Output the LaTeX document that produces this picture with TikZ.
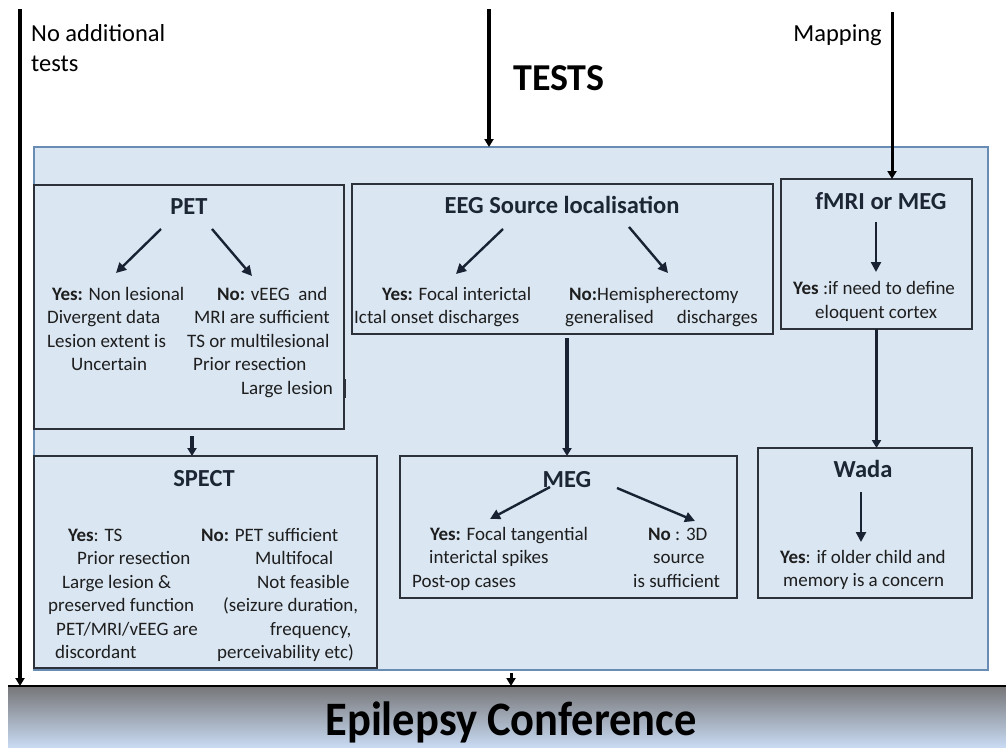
\documentclass[tikz,border=0pt]{standalone}
\usepackage{fontspec}
\setmainfont{Carlito}
\usetikzlibrary{arrows.meta}

\definecolor{panelfill}{RGB}{218,230,242}
\definecolor{panelline}{RGB}{105,140,180}
\definecolor{boxline}{RGB}{45,50,58}
\definecolor{headcol}{RGB}{28,38,52}
\definecolor{bodycol}{RGB}{30,30,30}
\definecolor{arrcol}{RGB}{24,34,50}
\definecolor{bargray}{RGB}{118,118,120}
\definecolor{barblue}{RGB}{200,218,242}

\tikzset{
  panel/.style={draw=panelline, fill=panelfill, line width=1.2pt, rectangle,
    inner sep=0pt, outer sep=0pt, anchor=north west},
  testbox/.style={draw=boxline, fill=panelfill, line width=1.2pt, rectangle,
    inner sep=0pt, outer sep=0pt, anchor=north west},
  headtxt/.style={text=headcol, font=\fontsize{24.5}{29}\selectfont\bfseries,
    inner sep=0pt, anchor=base},
  bodytxt/.style={text=bodycol, font=\fontsize{19}{23.5}\selectfont,
    inner sep=0pt, anchor=base west},
  toplabel/.style={text=black, font=\fontsize{24.5}{31}\selectfont,
    inner sep=0pt, anchor=base west},
  flow/.style={draw=arrcol, line width=2.4pt, -{Triangle[length=10pt,width=10pt]}},
  link/.style={draw=arrcol, line width=3.4pt, -{Triangle[length=8pt,width=9pt]}},
  route/.style={draw=black, line width=3.5pt, -{Triangle[length=8pt,width=9pt]}},
}

\begin{document}
\begin{tikzpicture}[x=1pt, y=-1pt]
\useasboundingbox (0,0) rectangle (1006,747);

% ---- outer panel and test boxes
\node[panel, minimum width=954pt, minimum height=523pt] (big) at (34,147) {};
\node[testbox, minimum width=310pt, minimum height=244pt] (pet) at (34,185) {};
\node[testbox, minimum width=421pt, minimum height=150pt] (eeg) at (352,184) {};
\node[testbox, minimum width=191pt, minimum height=150pt] (fmri) at (781,179) {};
\node[testbox, minimum width=343pt, minimum height=212pt] (spect) at (34,456) {};
\node[testbox, minimum width=337pt, minimum height=142pt] (meg) at (400,456) {};
\node[testbox, minimum width=214pt, minimum height=150pt] (wada) at (758,448) {};
\draw[boxline, line width=1.6pt] (345.5,379) -- (345.5,398);

% ---- conference bar
\node[anchor=north west, minimum width=998pt, minimum height=61pt, inner sep=0pt,
      outer sep=0pt, top color=bargray, bottom color=barblue] (conf) at (8,686) {};
\draw[black, line width=2pt] (conf.north west) -- (conf.north east);
\node[anchor=base, inner sep=0pt, yscale=1.08, font=\fontsize{44.5}{50}\selectfont\bfseries]
  (conftxt) at (511,735) {Epilepsy Conference};

% ---- top labels and routes
\node[toplabel] (noadd1) at (31,41) {No additional};
\node[toplabel] (noadd2) at (31,71) {tests};
\node[toplabel, anchor=base east] (mapping) at (882,41) {Mapping};
\node[anchor=base west, inner sep=0pt, font=\fontsize{38}{44}\selectfont\bfseries]
  (tests) at (513,90) {TESTS};

\coordinate (ltop) at (20,9);
\coordinate (mtop) at (489,9);
\coordinate (rtop) at (892,12);
\coordinate (cout) at (511,673);
\draw[route] (ltop) -- (ltop |- conf.north);
\draw[route] (mtop) -- (mtop |- big.north);
\draw[route, line width=3pt] (rtop) -- (rtop |- fmri.north);
\draw[route, line width=3pt] (cout) -- (cout |- conf.north);

% ---- links between tests
\coordinate (petout) at (192,436);
\coordinate (eegout) at (567,338);
\draw[link] (petout) -- (petout |- spect.north);
\draw[link] (eegout) -- (eegout |- meg.north);
\draw[link] (fmri.south) -- (fmri.south |- wada.north);

% ---- PET
\node[headtxt] (pettitle) at (189,214) {PET};
\coordinate (pa1) at (161,229); \coordinate (pb1) at (116,273);
\coordinate (pa2) at (212,229); \coordinate (pb2) at (252,276);
\draw[flow] (pa1) -- (pb1);
\draw[flow] (pa2) -- (pb2);
\node[bodytxt] (py1) at (52,300) {\textbf{Yes:} Non lesional};
\node[bodytxt] (py2) at (47,323.5) {Divergent data};
\node[bodytxt] (py3) at (47,347) {Lesion extent is};
\node[bodytxt] (py4) at (71,370.5) {Uncertain};
\node[bodytxt] (pn1) at (217,300) {\textbf{No:} vEEG\ \ and};
\node[bodytxt] (pn2) at (194,323.5) {MRI are sufficient};
\node[bodytxt] (pn3) at (187,347) {TS or multilesional};
\node[bodytxt] (pn4) at (193,370.5) {Prior resection};
\node[bodytxt] (pn5) at (241,394) {Large lesion};

% ---- EEG source localisation
\node[headtxt] (eegtitle) at (562,213) {EEG Source localisation};
\coordinate (ea1) at (503,229); \coordinate (eb1) at (456,274);
\coordinate (ea2) at (629,227); \coordinate (eb2) at (668,273);
\draw[flow] (ea1) -- (eb1);
\draw[flow] (ea2) -- (eb2);
\node[bodytxt] (ey1) at (382,300) {\textbf{Yes:} Focal interictal};
\node[bodytxt] (ey2) at (354,323.5) {Ictal onset discharges};
\node[bodytxt] (en1) at (569,300) {\textbf{No:}Hemispherectomy};
\node[bodytxt] (en2) at (565,323.5) {generalised\hspace*{23pt}discharges};

% ---- fMRI or MEG
\node[headtxt] (fmrititle) at (881,209) {fMRI or MEG};
\coordinate (fa) at (876,222); \coordinate (fb) at (876,272);
\draw[flow] (fa) -- (fb);
\node[bodytxt] (fy1) at (793,294) {\textbf{Yes} :if need to define};
\node[bodytxt] (fy2) at (815,318) {eloquent cortex};

% ---- SPECT
\node[headtxt] (specttitle) at (204,486) {SPECT};
\node[bodytxt] (sy1) at (68,541) {\textbf{Yes}: TS};
\node[bodytxt] (sy2) at (77,564.5) {Prior resection};
\node[bodytxt] (sy3) at (62,588) {Large lesion \&};
\node[bodytxt] (sy4) at (48,611.5) {preserved function};
\node[bodytxt] (sy5) at (56,635) {PET/MRI/vEEG are};
\node[bodytxt] (sy6) at (55,658.5) {discordant};
\node[bodytxt] (sn1) at (201,541) {\textbf{No:} PET sufficient};
\node[bodytxt] (sn2) at (255,564.5) {Multifocal};
\node[bodytxt] (sn3) at (257,588) {Not feasible};
\node[bodytxt] (sn4) at (223,611.5) {(seizure duration,};
\node[bodytxt] (sn5) at (270,635) {frequency,};
\node[bodytxt] (sn6) at (217,658.5) {perceivability etc)};

% ---- MEG
\node[headtxt] (megtitle) at (567,487) {MEG};
\coordinate (ma1) at (550,487); \coordinate (mb1) at (490,519);
\coordinate (ma2) at (617,488); \coordinate (mb2) at (695,521);
\draw[flow] (ma1) -- (mb1);
\draw[flow] (ma2) -- (mb2);
\node[bodytxt] (my1) at (430,540) {\textbf{Yes:} Focal tangential};
\node[bodytxt] (my2) at (429,563.5) {interictal spikes};
\node[bodytxt] (my3) at (412,587) {Post-op cases};
\node[bodytxt] (mn1) at (648,540) {\textbf{No} : 3D};
\node[bodytxt] (mn2) at (653,563.5) {source};
\node[bodytxt] (mn3) at (633,587) {is sufficient};

% ---- Wada
\node[headtxt] (wadatitle) at (863,477) {Wada};
\coordinate (wa) at (861,492); \coordinate (wb) at (861,542);
\draw[flow] (wa) -- (wb);
\node[bodytxt] (wy1) at (780,563) {\textbf{Yes}: if older child and};
\node[bodytxt] (wy2) at (783,586.5) {memory is a concern};
\end{tikzpicture}
\end{document}
